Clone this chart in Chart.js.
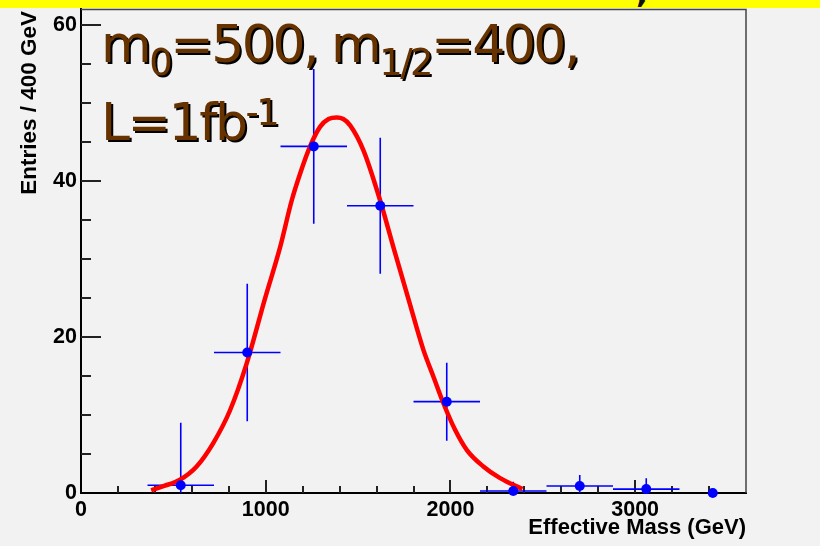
<!DOCTYPE html>
<html>
<head>
<meta charset="utf-8">
<script src="https://cdn.jsdelivr.net/npm/chart.js@4.4.1/dist/chart.umd.min.js"></script>
<style>
  html, body { margin: 0; padding: 0; background: #f2f2f2; }
  #wrap { position: relative; width: 820px; height: 546px; background: #f2f2f2; overflow: hidden; }
  #band { position: absolute; left: 0; top: 0; width: 820px; height: 8px; background: #ffff00; overflow: hidden; }
  #band span { position: absolute; left: 636px; top: -28px; font: bold 32px "DejaVu Sans"; color: #111; }
  canvas { position: absolute; left: 0; top: 0; }
  .lbl { position: absolute; left: 101px; font-family: "DejaVu Sans"; font-size: 52px; line-height: 52px;
         color: #663300; letter-spacing: -2.5px; white-space: nowrap; text-shadow: 2px 2px 0 #000; }
  .lbl sub, .lbl sup { font-size: 0.71em; vertical-align: baseline; position: relative; }
  .lbl sub { top: 13px; }
  .lbl sup { top: -15px; }
  #l1 { top: 18px; }
  #l2 { top: 96px; }
</style>
</head>
<body>
<div id="wrap">
  <div id="band"><span>,</span></div>
  <canvas id="chart" width="820" height="546"></canvas>
  <div class="lbl" id="l1">m<sub>0</sub>=500, m<sub>1/2</sub>=400,</div>
  <div class="lbl" id="l2">L=1fb<sup>-1</sup></div>
</div>
<script>
// histogram points (bin centre, entries, error)
const massBins = [540, 900, 1260, 1620, 1980, 2340, 2700, 3060, 3420];
const entries = [1.0, 18.0, 44.4, 36.8, 11.7, 0.25, 0.9, 0.5, 0];
const entryErr = [8.0, 8.8, 9.9, 8.7, 5.0, 1.2, 1.4, 1.4, 0];
const binHalfWidth = [180, 180, 180, 180, 180, 180, 180, 180, 0];

// fit curve
const fitMass = [380, 450, 536, 626, 716, 807, 897, 996, 1078, 1141, 1186, 1240, 1294, 1340, 1385,
                 1420, 1457, 1529, 1619, 1691, 1772, 1854, 1908, 1962, 2025, 2089, 2178, 2269, 2390];
const fitValue = [0.35, 0.9, 1.7, 3.4, 6.4, 10.6, 16.6, 24.9, 31.5, 37.5, 40.9, 44.4, 46.9, 47.9, 48.1,
                  47.9, 47.1, 43.9, 37.5, 31.5, 24.9, 18.3, 14.9, 11.5, 8.1, 5.5, 3.4, 1.9, 0.5];

const xTicks = [0, 1000, 2000, 3000];
const yTicks = [0, 20, 40, 60];
const yTitle = "Entries / 400 GeV";

// error bars as line segments separated by gaps
const errSegments = [];
massBins.forEach((m, i) => {
  if (binHalfWidth[i] > 0) {
    errSegments.push({ x: m - binHalfWidth[i], y: entries[i] }, { x: m + binHalfWidth[i], y: entries[i] }, { x: m, y: null });
  }
  if (entryErr[i] > 0) {
    errSegments.push({ x: m, y: entries[i] - entryErr[i] }, { x: m, y: entries[i] + entryErr[i] }, { x: m, y: null });
  }
});

const tickFont = { family: "Liberation Sans", weight: "bold", size: 21.5 };
const titleFont = { family: "Liberation Sans", weight: "bold", size: 22 };

// inward ticks + frame, ROOT style
const frameTicks = {
  id: "frameTicks",
  beforeDatasetsDraw(chart) {
    const { ctx, chartArea: a, scales: { x, y } } = chart;
    ctx.save();
    ctx.strokeStyle = "#222";
    ctx.lineWidth = 2;
    ctx.beginPath();
    for (let v = 200; v < 3600; v += 200) {
      const px = Math.round(x.getPixelForValue(v));
      const len = v % 1000 === 0 ? 13 : 7;
      ctx.moveTo(px, a.bottom);
      ctx.lineTo(px, a.bottom - len);
    }
    for (let v = 5; v <= 60; v += 5) {
      const py = Math.round(y.getPixelForValue(v));
      const len = v % 20 === 0 ? 20 : 10;
      ctx.moveTo(a.left, py);
      ctx.lineTo(a.left + len, py);
    }
    ctx.stroke();
    ctx.strokeStyle = "#444";
    ctx.lineWidth = 1.5;
    ctx.beginPath();
    ctx.moveTo(a.left, a.top + 0.5);
    ctx.lineTo(a.right, a.top + 0.5);
    ctx.lineTo(a.right, a.bottom);
    ctx.stroke();
    // y axis title, right-aligned to the top of the frame
    ctx.fillStyle = "#000";
    ctx.font = "bold 22.5px 'Liberation Sans'";
    ctx.textAlign = "right";
    ctx.textBaseline = "alphabetic";
    ctx.translate(36, a.top + 2);
    ctx.rotate(-Math.PI / 2);
    ctx.fillText(yTitle, 0, 0);
    ctx.restore();
  }
};

new Chart(document.getElementById("chart"), {
  type: "scatter",
  data: {
    datasets: [
      {
        data: massBins.map((m, i) => ({ x: m, y: entries[i] })),
        backgroundColor: "#0000ff",
        borderWidth: 0,
        pointRadius: 5,
        clip: false,
        order: 0
      },
      {
        data: fitMass.map((m, i) => ({ x: m, y: fitValue[i] })),
        showLine: true,
        borderColor: "#ff0000",
        borderWidth: 4.5,
        pointRadius: 0,
        cubicInterpolationMode: "monotone",
        order: 1
      },
      {
        data: errSegments,
        showLine: true,
        spanGaps: false,
        borderColor: "#0000ff",
        borderWidth: 1.6,
        pointRadius: 0,
        order: 2
      }
    ]
  },
  options: {
    responsive: false,
    animation: false,
    devicePixelRatio: 1,
    layout: { padding: { top: 9, right: 74, left: 0, bottom: 0 } },
    plugins: { legend: { display: false }, tooltip: { enabled: false } },
    scales: {
      x: {
        type: "linear",
        min: 0,
        max: 3600,
        afterFit(s) { s.height = 53; s.paddingLeft = 0; s.paddingRight = 0; },
        afterBuildTicks(s) { s.ticks = xTicks.map(v => ({ value: v })); },
        grid: { display: false, drawTicks: false },
        border: { display: true, color: "#000", width: 2 },
        ticks: { font: tickFont, color: "#000", padding: 4, maxRotation: 0, autoSkip: false,
                 callback: v => String(v) },
        title: { display: true, text: "Effective Mass (GeV)", align: "end", color: "#000",
                 font: titleFont, padding: { top: 0, bottom: 5 } }
      },
      y: {
        min: 0,
        max: 62,
        afterFit(s) { s.width = 81; s.paddingTop = 0; s.paddingBottom = 0; },
        afterBuildTicks(s) { s.ticks = yTicks.map(v => ({ value: v })); },
        grid: { display: false, drawTicks: false },
        border: { display: true, color: "#000", width: 2 },
        ticks: { font: tickFont, color: "#000", padding: 4, callback: v => String(v) },
        title: { display: false }
      }
    }
  },
  plugins: [frameTicks]
});
</script>
</body>
</html>
